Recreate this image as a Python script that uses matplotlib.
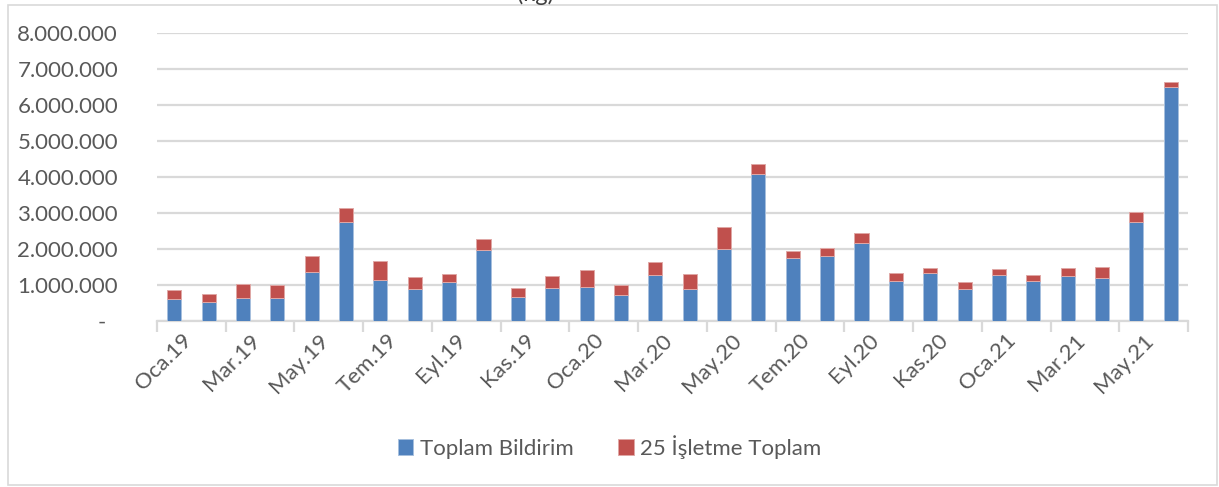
import numpy as np
import matplotlib
matplotlib.use("Agg")
import matplotlib.pyplot as plt
from matplotlib.patches import Rectangle

months = ["Oca.19", "Şub.19", "Mar.19", "Nis.19", "May.19", "Haz.19",
          "Tem.19", "Ağu.19", "Eyl.19", "Eki.19", "Kas.19", "Ara.19",
          "Oca.20", "Şub.20", "Mar.20", "Nis.20", "May.20", "Haz.20",
          "Tem.20", "Ağu.20", "Eyl.20", "Eki.20", "Kas.20", "Ara.20",
          "Oca.21", "Şub.21", "Mar.21", "Nis.21", "May.21", "Haz.21"]

# Toplam Bildirim (kg)
toplam = [620000, 540000, 640000, 650000, 1375000, 2750000,
          1150000, 900000, 1090000, 1980000, 660000, 920000,
          950000, 710000, 1280000, 890000, 2010000, 4090000,
          1760000, 1810000, 2160000, 1120000, 1320000, 880000,
          1270000, 1120000, 1250000, 1200000, 2750000, 6510000]

# 25 isletme toplam (top segment)
isletme = [255000, 220000, 390000, 340000, 435000, 390000,
           510000, 330000, 220000, 290000, 260000, 340000,
           460000, 280000, 360000, 420000, 610000, 280000,
           180000, 210000, 290000, 220000, 140000, 190000,
           180000, 170000, 220000, 310000, 290000, 140000]

yticks = [0, 1000000, 2000000, 3000000, 4000000, 5000000, 6000000, 7000000, 8000000]

blue = "#4F81BD"
red = "#C0504D"
grid = "#D9D9D9"
txt = "#595959"
font = "Lato"
fs = 16

fig = plt.figure(figsize=(12.19, 4.87), dpi=100)
ax = fig.add_axes([157/1219, 1-321/487, (1188-157)/1219, (321-33)/487])

x = np.arange(len(months))
w = 0.41
ax.bar(x, toplam, w, color=blue, edgecolor="#A7C0DE", linewidth=0.7,
       label="Toplam Bildirim", zorder=3)
ax.bar(x, isletme, w, bottom=toplam, color=red, edgecolor="#E0A8A6", linewidth=0.7,
       label="25 İşletme Toplam", zorder=3)

ax.set_xlim(-0.5, len(months) - 0.5)
ax.set_ylim(0, 8000000)
ax.set_yticks(yticks)
ax.set_yticklabels(["-  "] + ["{:,}".format(v).replace(",", ".") for v in yticks[1:]],
                   fontsize=fs, color=txt, family=font)
ax.tick_params(axis="y", length=0, pad=28)
ax.yaxis.grid(True, color=grid, linewidth=1.6, zorder=0)
ax.set_axisbelow(True)

# category ticks at group boundaries, labels every other month
ax.set_xticks(np.arange(-0.5, len(months), 2))
ax.set_xticklabels([])
ax.tick_params(axis="x", length=8, width=1.6, color=grid)
for i in range(0, len(months), 2):
    ax.text(i + 0.2, -250000, months[i], rotation=45, ha="right", va="top",
            rotation_mode="anchor", fontsize=fs, color=txt, family=font)

for s in ["top", "right", "left"]:
    ax.spines[s].set_visible(False)
ax.spines["bottom"].set_color(grid)
ax.spines["bottom"].set_linewidth(1.6)

leg = fig.legend(loc="center", bbox_to_anchor=(0.5, 1-447/487), ncol=2, frameon=False,
                 handlelength=0.7, handleheight=0.7, handletextpad=0.3,
                 columnspacing=2.0, prop={"family": font, "size": fs})
for t in leg.get_texts():
    t.set_color(txt)

# title line is cut off at the top in the original, only "(kg)" peeks in
fig.text(536/1219, 1.012, "(kg)", ha="center", va="center", fontsize=17, color="#404040", family=font)

fig.patches.append(Rectangle((8/1219, 2/487), 1209/1219, 480/487, transform=fig.transFigure,
                             fill=False, edgecolor=grid, linewidth=1.2))

fig.savefig("out.png", dpi=100)
